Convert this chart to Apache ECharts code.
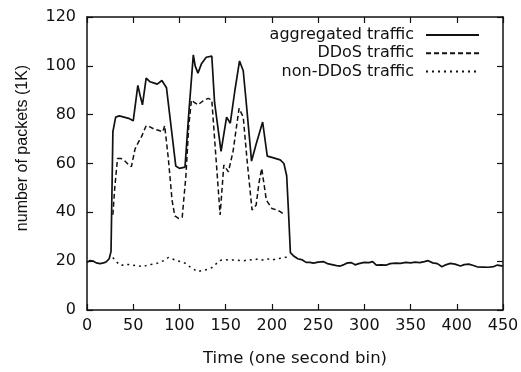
<!DOCTYPE html>
<html>
<head>
<meta charset="utf-8">
<script src="https://cdn.jsdelivr.net/npm/echarts@6/dist/echarts.min.js"></script>
<style>html,body{margin:0;padding:0;background:#fff}#c{width:521px;height:372px}</style>
</head>
<body>
<div id="c"></div>
<script>
// ---- data ----
const seriesNames = ['aggregated traffic', 'DDoS traffic', 'non-DDoS traffic'];
const xTicks = [0, 50, 100, 150, 200, 250, 300, 350, 400, 450];
const yTicks = [0, 20, 40, 60, 80, 100, 120];

const aggTime = [0,3,7,10,14,18,21,24,26,28,31,35,40,45,50,55,58,60,64,68,72,76,81,86,91,96,100,106,110,115,117,120,124,129,135,138,145,151,155,160,165,169,172,178,183,190,195,200,209,213,216,218,220,224,228,233,237,241,245,250,256,260,265,270,274,278,282,286,290,294,300,305,309,313,318,324,328,334,339,345,350,355,360,365,369,374,379,384,388,393,398,404,408,413,418,422,428,434,440,444,450];
const aggValues = [19.5,20.2,20,19.3,19,19.3,19.8,21,24,73,79,79.5,79,78.5,77.5,92,87,84,95,93.5,93,92.5,94,91,75,59,58,58.5,80,104.5,100,97,101,103.5,104,85,65,79,76.5,90,102,98,86,61,68,77,63,62.5,61.5,60,55,40,23.5,22,21,20.5,19.5,19.5,19.2,19.6,19.8,19,18.6,18.2,18,18.6,19.3,19.4,18.5,19,19.5,19.4,19.8,18.4,18.5,18.4,19,19.2,19.1,19.5,19.3,19.6,19.4,19.8,20.2,19.3,19,17.7,18.5,19.1,18.8,18,18.6,18.8,18.2,17.7,17.6,17.5,17.8,18.4,18];

const ddosTime = [28,30,33,37,41,45,48,52,56,59,64,68,73,78,82,84,88,92,95,99,103,107,110,113,116,120,125,131,135,139,144,148,153,158,164.5,169,173,178.5,183,186,189,194,200,205,209,214];
const ddosValues = [39,50,62,62,61,59.5,58.7,66,69,71,75.5,75,74,73.5,73,75.5,62,45,38.5,37.5,38,55,75,86,85,84,85.5,86.7,86,65,38.9,59.4,56.6,65,82.6,79,62,41,43,52,58,45,41.6,41,40.3,39];

const nonTime = [28,31,34,37,41,45,49,53,57,61,65,69,73,78,83,88,92,97,102,106,110,115,120,125,130,135,140,145,150,155,160,165,170,175,180,185,190,195,200,205,210,215,219];
const nonValues = [21.5,20,19,18.2,18.8,18.6,18.2,18.4,18,17.7,18.4,18.6,18.8,19.4,20.2,21.5,21,20.2,19.8,19.2,18,16.8,15.7,16.2,16.6,17.3,19,20.4,20.6,20.4,20.5,20.3,20.2,20.6,20.4,20.9,20.5,21,20.4,21,21.2,21.6,21.8];

// ---- build ----
const zip = (t, v) => t.map((x, i) => [x, v[i]]);
const FONT = '"DejaVu Sans", Arial, sans-serif';
const FONT_V = '"Liberation Sans", Arial, sans-serif';
const ink = '#111';

const xMin = xTicks[0], xMax = xTicks[xTicks.length - 1], xInt = xTicks[1] - xTicks[0];
const yMin = yTicks[0], yMax = yTicks[yTicks.length - 1], yInt = yTicks[1] - yTicks[0];

const axisCommon = {
  axisLine: { show: true, onZero: false, lineStyle: { color: ink, width: 1.5 } },
  axisTick: { show: true, inside: true, length: 6, lineStyle: { color: ink, width: 1.2 } },
  splitLine: { show: false }
};

const chart = echarts.init(document.getElementById('c'), null, { renderer: 'canvas' });
chart.setOption({
  animation: false,
  backgroundColor: '#fff',
  grid: { left: 87, right: 18, top: 17, bottom: 62, containLabel: false, outerBoundsMode: 'none' },
  legend: {
    orient: 'vertical',
    right: 41,
    top: 26,
    padding: 0,
    align: 'right',
    itemWidth: 53,
    itemHeight: 14,
    itemGap: 0.3,
    selectedMode: false,
    data: seriesNames,
    itemStyle: { opacity: 0, borderWidth: 0 },
    textStyle: { fontFamily: FONT, fontSize: 16, color: ink, lineHeight: 18, padding: [0, 7, 0, 0] }
  },
  xAxis: [
    Object.assign({}, axisCommon, {
      type: 'value', min: xMin, max: xMax, interval: xInt, position: 'bottom',
      name: 'Time (one second bin)', nameLocation: 'middle', nameGap: 40,
      nameTextStyle: { fontFamily: FONT, fontSize: 16.5, color: ink },
      axisLabel: { fontFamily: FONT, fontSize: 16, color: ink, margin: 8 }
    }),
    Object.assign({}, axisCommon, {
      type: 'value', min: xMin, max: xMax, interval: xInt, position: 'top',
      axisLabel: { show: false }
    })
  ],
  yAxis: [
    Object.assign({}, axisCommon, {
      type: 'value', min: yMin, max: yMax, interval: yInt, position: 'left',
      axisLabel: { fontFamily: FONT, fontSize: 16, color: ink, margin: 11 }
    }),
    Object.assign({}, axisCommon, {
      type: 'value', min: yMin, max: yMax, interval: yInt, position: 'right',
      axisLabel: { show: false }
    })
  ],
  graphic: [{
    type: 'text',
    x: 23, y: 148,
    rotation: Math.PI / 2,
    style: { text: 'number of packets (1K)', font: '16px ' + FONT_V, fill: ink, align: 'center', verticalAlign: 'middle' }
  }],
  series: [
    { name: seriesNames[0], type: 'line', data: zip(aggTime, aggValues), symbol: 'none', smooth: false,
      lineStyle: { color: ink, width: 1.7, type: 'solid' }, itemStyle: { color: ink } },
    { name: seriesNames[1], type: 'line', data: zip(ddosTime, ddosValues), symbol: 'none',
      lineStyle: { color: ink, width: 1.5, type: [5, 3] }, itemStyle: { color: ink } },
    { name: seriesNames[2], type: 'line', data: zip(nonTime, nonValues), symbol: 'none',
      lineStyle: { color: ink, width: 1.5, type: [2, 4] }, itemStyle: { color: ink } }
  ]
});
</script>
</body>
</html>
